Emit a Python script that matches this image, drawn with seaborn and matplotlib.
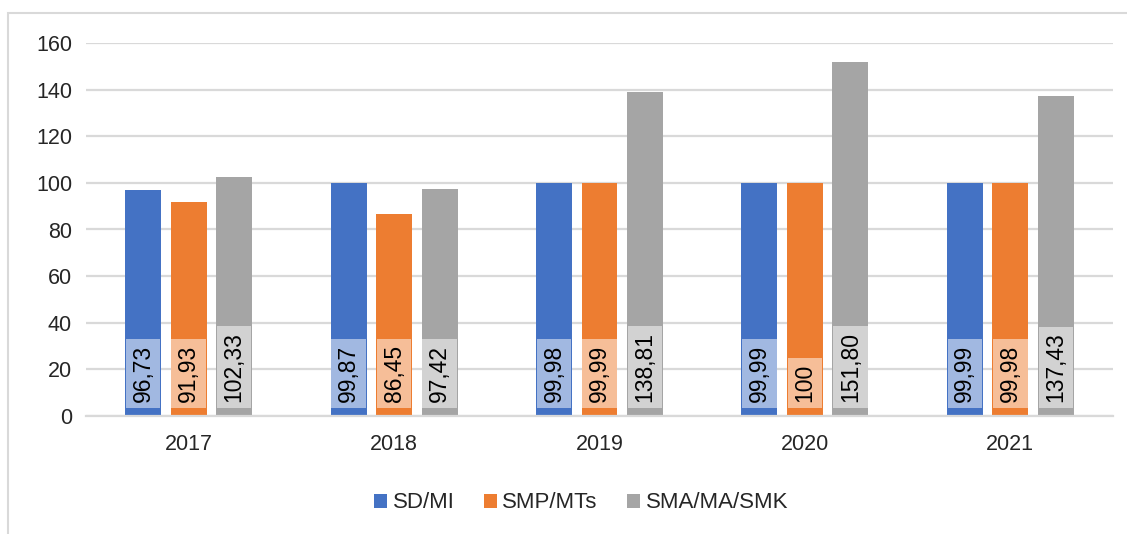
import pandas as pd
import matplotlib
matplotlib.use("Agg")
import matplotlib.pyplot as plt
import matplotlib.patches as mpatches
import seaborn as sns

# DATA
years = ["2017", "2018", "2019", "2020", "2021"]
series = ["SD/MI", "SMP/MTs", "SMA/MA/SMK"]
sd_mi = [96.73, 99.87, 99.98, 99.99, 99.99]
smp_mts = [91.93, 86.45, 99.99, 100, 99.98]
sma_ma_smk = [102.33, 97.42, 138.81, 151.80, 137.43]
sd_labels = ["96,73", "99,87", "99,98", "99,99", "99,99"]
smp_labels = ["91,93", "86,45", "99,99", "100", "99,98"]
sma_labels = ["102,33", "97,42", "138,81", "151,80", "137,43"]
colors = ["#4472C4", "#ED7D31", "#A5A5A5"]

df = pd.DataFrame({
    "year": years * 3,
    "value": sd_mi + smp_mts + sma_ma_smk,
    "series": [s for s in series for _ in years],
})

sns.set_style("white")
plt.rcParams["font.family"] = ["Liberation Sans", "DejaVu Sans"]

fig = plt.figure(figsize=(11.27, 5.34), dpi=100)
ax = fig.add_axes([86 / 1127, 1 - 416 / 534, (1113 - 86) / 1127, (416 - 43) / 534])

sns.barplot(
    data=df, x="year", y="value", hue="series",
    palette=colors, saturation=1, width=0.665, gap=0.21,
    ax=ax, errorbar=None, linewidth=0, edgecolor="none",
)

# LABELS INSIDE BASE
for cont, labs in zip(ax.containers, [sd_labels, smp_labels, sma_labels]):
    for bar, lab in zip(cont, labs):
        ax.text(
            bar.get_x() + bar.get_width() / 2, 6.0, lab,
            rotation=90, ha="center", va="bottom", fontsize=16.5, color="black",
            bbox=dict(boxstyle="square,pad=0.25", facecolor="white",
                      edgecolor="none", alpha=0.5),
        )

ax.set_ylim(0, 160)
ax.set_yticks(range(0, 161, 20))
ax.set_xlabel("")
ax.set_ylabel("")
ax.grid(axis="y", color="#D9D9D9", linewidth=1.6)
ax.set_axisbelow(True)
for side in ["top", "right", "left"]:
    ax.spines[side].set_visible(False)
ax.spines["bottom"].set_color("#D9D9D9")
ax.spines["bottom"].set_linewidth(1.6)
ax.tick_params(axis="x", length=0, pad=13, labelsize=15.5)
ax.tick_params(axis="y", length=0, pad=10, labelsize=15.5)

# LEGEND
handles, labels = ax.get_legend_handles_labels()
ax.legend_.remove()
fig.legend(
    handles, labels, loc="center", bbox_to_anchor=(581 / 1127, 1 - 503 / 534),
    ncol=3, frameon=False, fontsize=16, handlelength=0.6, handleheight=0.6,
    handletextpad=0.25, columnspacing=1.3,
)

# OUTER BORDER
fig.patches.append(mpatches.Rectangle(
    (8 / 1127, -0.1), 1.2, 1 - 13 / 534 + 0.1, transform=fig.transFigure,
    fill=False, edgecolor="#D9D9D9", linewidth=1.5,
))

fig.savefig("out.png", dpi=100)
